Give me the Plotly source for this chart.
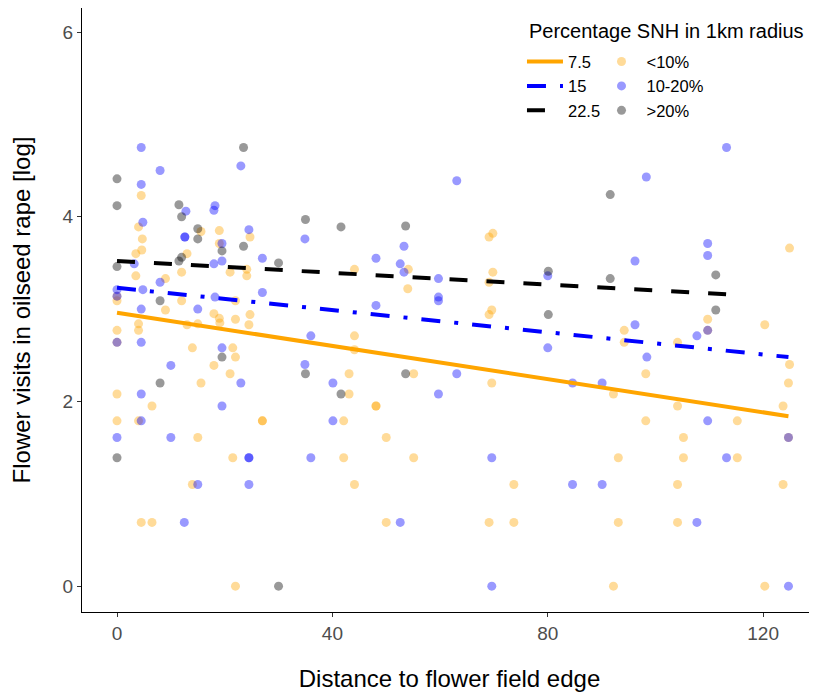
import plotly.graph_objects as go

# Point data: distance to flower field edge (x) and log flower visits (y), per SNH class
low_x = [4.5, 4.0, 15.6, 19.0, 24.7, 4.7, 19.0, 4.6, 3.5, 13.0, 3.5, 12.0, 21.0, 24.1, 24.1, 9.0,
         0.0, 12.0, 22.0, 9.0, 18.0, 24.7, 19.0, 22.0, 4.0, 0.0, 4.0, 13.0, 15.0, 19.1, 24.5, 14.0,
         21.5, 22.0, 18.0, 21.0, 15.6, 0.0, 6.5, 0.0, 4.0, 27.0, 27.0, 15.0, 21.5, 14.0, 4.5, 6.5,
         22.0, 0.0, 0.0,
         44.1, 54.1, 54.0, 69.8, 69.1, 69.8, 69.1, 69.6, 69.1, 44.1, 44.1, 43.1, 55.1, 69.6, 43.1,
         48.1, 48.1, 42.1, 50.0, 42.1, 55.1, 44.1, 73.7, 50.0, 69.1, 73.7,
         124.9, 109.7, 120.3, 94.2, 109.7, 94.2, 104.1, 124.9, 124.7, 98.2, 92.2, 104.1, 123.7,
         98.2, 115.2, 105.2, 124.7, 93.1, 105.2, 115.2, 104.1, 123.7, 93.1, 104.1, 92.2, 120.3]
low_y = [4.23, 3.89, 3.84, 3.85, 3.78, 3.76, 3.71, 3.64, 3.60, 3.60, 3.36, 3.40, 3.40, 3.43, 3.36,
         3.33, 3.09, 3.09, 3.09, 2.99, 2.95, 2.94, 2.90, 2.89, 2.84, 2.77, 2.77, 2.83, 2.84, 2.85,
         2.83, 2.58, 2.58, 2.48, 2.39, 2.30, 2.20, 2.08, 1.95, 1.79, 1.79, 1.79, 1.79, 1.61, 1.39,
         1.10, 0.69, 0.69, 0.0, 3.14, 2.64,
         3.43, 3.43, 3.22, 3.82, 3.78, 3.40, 3.29, 2.99, 2.94, 2.71, 2.56, 2.30, 2.30, 2.20, 2.08,
         1.95, 1.95, 1.79, 1.61, 1.39, 1.39, 1.10, 1.10, 0.69, 0.69, 0.69,
         3.66, 2.89, 2.83, 2.77, 2.77, 2.64, 2.64, 2.40, 2.20, 2.30, 2.08, 1.95, 1.95, 1.79, 1.79,
         1.61, 1.61, 1.39, 1.39, 1.39, 1.10, 1.10, 0.69, 0.69, 0.0, 0.0]

mid_x = [4.5, 8.0, 23.0, 4.5, 12.8, 18.2, 18.0, 4.8, 24.5, 12.6, 12.6, 19.5, 27.0, 3.2, 18.0, 19.5,
         8.0, 0.0, 4.8, 27.0, 0.0, 18.2, 4.5, 15.0, 0.0, 4.5, 19.5, 10.0, 23.0, 4.5, 19.5, 4.5,
         0.0, 10.0, 24.5, 24.5, 15.0, 24.5, 12.5,
         34.9, 53.3, 48.1, 52.6, 53.3, 63.1, 59.7, 59.7, 59.7, 48.1, 80.0, 36.0, 80.0, 34.9, 63.1,
         40.1, 59.7, 40.1, 36.0, 69.6, 52.6, 69.6,
         113.2, 98.3, 109.7, 109.7, 96.2, 96.2, 109.7, 107.7, 98.4, 84.6, 90.1, 109.7, 124.7,
         113.2, 84.6, 90.1, 107.7, 124.7]
mid_y = [4.75, 4.50, 4.55, 4.35, 4.06, 4.12, 4.07, 3.94, 3.86, 3.78, 3.78, 3.71, 3.55, 3.49, 3.49,
         3.52, 3.29, 3.21, 3.21, 3.18, 3.14, 3.13, 3.00, 3.00, 2.64, 2.64, 2.58, 2.39, 2.20, 2.08,
         1.95, 1.79, 1.61, 1.61, 1.39, 1.39, 1.10, 1.10, 0.69,
         3.76, 3.68, 3.55, 3.49, 3.40, 4.39, 3.33, 3.13, 3.09, 3.04, 3.36, 2.71, 2.58, 2.40, 2.30,
         2.20, 2.08, 1.79, 1.39, 1.39, 0.69, 0.0,
         4.75, 4.43, 3.71, 3.58, 3.52, 2.83, 2.77, 2.71, 2.48, 2.20, 2.20, 1.79, 1.61, 1.39, 1.10,
         1.10, 0.69, 0.0]

high_x = [23.5, 0.0, 0.0, 11.5, 12.0, 15.0, 15.0, 19.5, 23.5, 12.0, 11.5, 0.0, 30.0, 8.0, 19.5,
          8.0, 0.0, 30.0,
          35.0, 41.6, 53.6, 80.1, 35.0, 53.6, 41.6,
          91.6, 111.2, 80.1, 91.6, 111.2]
high_y = [4.75, 4.41, 4.12, 4.13, 4.00, 3.87, 3.76, 3.63, 3.68, 3.56, 3.52, 3.46, 3.50, 3.09, 2.48,
          2.20, 1.39, 0.0,
          3.97, 3.89, 3.90, 2.94, 2.30, 2.30, 2.08,
          4.24, 3.37, 3.41, 3.33, 2.99]

# Fitted lines for SNH = 7.5, 15, 22.5
fit_75_x = [0, 124.7]
fit_75_y = [2.96, 1.84]
fit_15_x = [0, 124.7]
fit_15_y = [3.23, 2.48]
fit_225_x = [0, 113.2]
fit_225_y = [3.52, 3.16]

x_ticks = [0, 40, 80, 120]
y_ticks = [0, 2, 4, 6]

FONT = "Liberation Sans, Arial, sans-serif"

fig = go.Figure()

for name, xs, ys, c in [("<10%", low_x, low_y, "rgba(255,165,0,0.4)"),
                        ("10-20%", mid_x, mid_y, "rgba(0,0,255,0.4)"),
                        (">20%", high_x, high_y, "rgba(0,0,0,0.4)")]:
    fig.add_trace(go.Scatter(x=xs, y=ys, mode="markers", name=name, legend="legend2",
                             marker=dict(color=c, size=9, line_width=0)))

fig.add_trace(go.Scatter(x=fit_75_x, y=fit_75_y, mode="lines", name="7.5",
                         line=dict(color="orange", width=4)))
fig.add_trace(go.Scatter(x=fit_15_x, y=fit_15_y, mode="lines", name="15",
                         line=dict(color="blue", width=4, dash="19px,14px,4px,14px")))
fig.add_trace(go.Scatter(x=fit_225_x, y=fit_225_y, mode="lines", name="22.5",
                         line=dict(color="black", width=4, dash="18px,19px")))

# page body has an 8px margin, so the figure is sized to fit inside the window
fig.update_layout(
    width=809, height=684,
    margin=dict(l=74, r=0, t=0, b=80, autoexpand=False),
    plot_bgcolor="white", paper_bgcolor="white",
    font=dict(family=FONT, color="black"),
    legend=dict(x=0.5986, y=0.940, xanchor="left", yanchor="top", font_size=16.5,
                bgcolor="rgba(0,0,0,0)", traceorder="normal", itemwidth=36),
    legend2=dict(x=0.700, y=0.940, xanchor="left", yanchor="top", font_size=16.5,
                 bgcolor="rgba(0,0,0,0)", traceorder="normal", itemwidth=40),
    annotations=[dict(text="Percentage SNH in 1km radius", x=0.6055, y=0.962, xref="paper",
                      yref="paper", xanchor="left", yanchor="middle", showarrow=False,
                      font=dict(size=20, color="black"))],
)

fig.update_xaxes(range=[-6.5, 130.0], tickvals=x_ticks, showgrid=False, zeroline=False,
                 automargin=False,
                 showline=True, linecolor="black", linewidth=1.3, ticks="outside", ticklen=4,
                 tickcolor="#333333", tickfont=dict(size=19, color="#4d4d4d"),
                 title=dict(text="Distance to flower field edge", font_size=24, standoff=28))
fig.update_yaxes(range=[-0.28, 6.26], tickvals=y_ticks, showgrid=False, zeroline=False,
                 automargin=False,
                 showline=True, linecolor="black", linewidth=1.3, ticks="outside", ticklen=4,
                 tickcolor="#333333", tickfont=dict(size=19, color="#4d4d4d"),
                 title=dict(text="Flower visits in oilseed rape [log]", font_size=24, standoff=25))

fig.write_html("out.html")
